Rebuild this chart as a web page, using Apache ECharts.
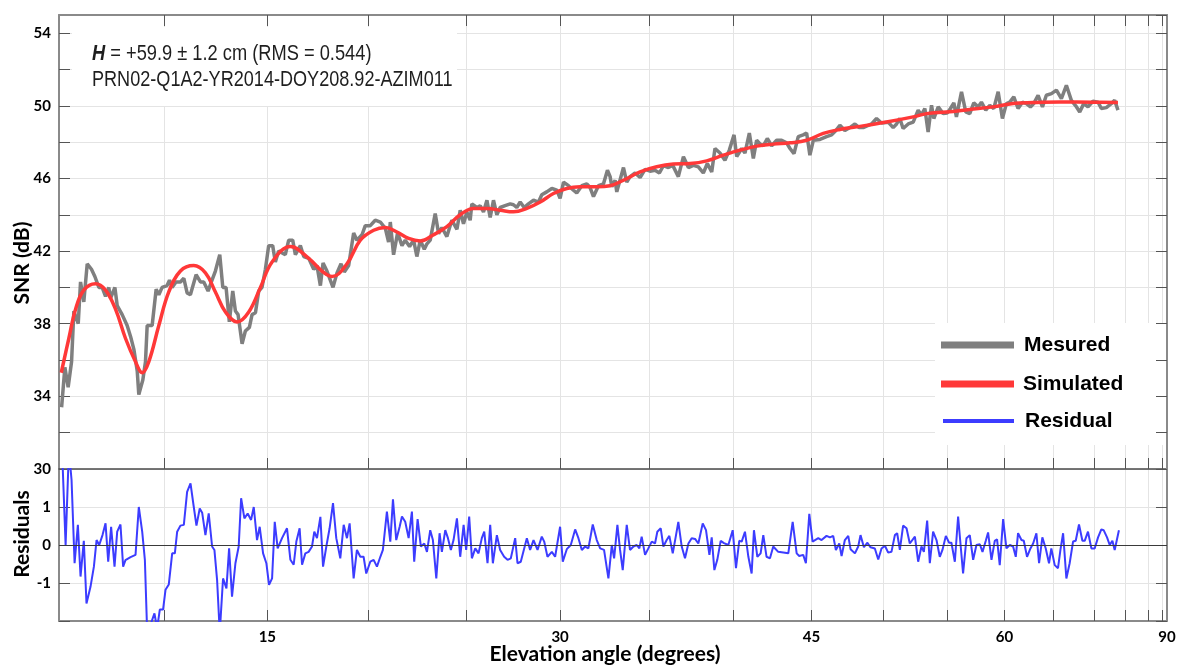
<!DOCTYPE html>
<html><head><meta charset="utf-8">
<script src="https://cdn.jsdelivr.net/npm/echarts@6/dist/echarts.min.js"></script>
<style>html,body{margin:0;padding:0;background:#fff}#c{width:1178px;height:666px}</style>
</head><body><div id="c"></div>
<script>
// x values are sin(elevation angle); the axis is linear in sin(elevation)
const tickDegrees = [10,15,20,25,30,35,40,45,50,55,60,65,70,75,80,85];
const labelDegrees = [15,30,45,60,90];

const measured = [
[0.0893,33.4],[0.0920,35.6],[0.0947,34.5],[0.0975,35.9],[0.0994,38.7],[0.1030,38.0],[0.1049,40.3],[0.1076,39.2],[0.1104,41.3],[0.1139,41.0],[0.1167,40.6],[0.1200,40.0],[0.1227,40.0],[0.1255,39.5],[0.1282,40.0],[0.1296,39.4],[0.1332,40.0],[0.1351,39.0],[0.1392,38.5],[0.1406,38.6],[0.1433,37.9],[0.1461,37.3],[0.1488,36.6],[0.1516,35.4],[0.1529,34.1],[0.1562,34.9],[0.1584,35.9],[0.1598,37.9],[0.1639,37.9],[0.1672,39.9],[0.1694,39.6],[0.1721,40.0],[0.1762,40.1],[0.1782,40.4],[0.1803,40.0],[0.1836,40.3],[0.1872,40.3],[0.1900,40.5],[0.1927,39.7],[0.1954,39.6],[0.2001,40.7],[0.2037,40.3],[0.2064,40.3],[0.2100,39.8],[0.2127,40.3],[0.2160,40.9],[0.2196,41.8],[0.2221,40.0],[0.2248,40.0],[0.2275,38.1],[0.2303,39.8],[0.2325,38.7],[0.2347,38.5],[0.2380,36.9],[0.2407,37.6],[0.2440,37.8],[0.2462,38.5],[0.2490,38.6],[0.2517,39.8],[0.2544,40.0],[0.2572,41.0],[0.2599,42.3],[0.2632,42.3],[0.2654,41.4],[0.2681,42.0],[0.2736,41.8],[0.2764,42.6],[0.2797,42.6],[0.2819,41.8],[0.2860,42.3],[0.2888,41.7],[0.2929,41.6],[0.2970,41.0],[0.2997,41.2],[0.3025,40.1],
[0.3047,41.35],[0.3079,40.9],[0.3129,40.0],[0.3162,40.8],[0.3195,41.3],[0.3222,40.85],[0.3258,41.2],[0.3299,43.0],[0.3326,42.6],[0.3368,42.9],[0.3395,43.4],[0.3436,43.4],[0.3477,43.7],[0.3519,43.6],[0.3560,43.25],[0.3587,42.5],[0.3601,43.6],[0.3628,41.8],[0.3661,43.0],[0.3697,42.3],[0.3724,42.6],[0.3760,42.25],[0.3793,42.6],[0.3820,41.7],[0.3848,42.6],[0.3881,42.1],[0.3903,42.4],[0.3930,42.6],[0.3971,44.07],[0.3999,42.96],[0.4026,43.3],[0.4067,42.8],[0.4108,43.7],[0.4150,43.2],[0.4177,44.25],[0.4204,43.5],[0.4232,44.15],[0.4259,43.7],[0.4273,44.6],[0.4314,44.4],[0.4342,44.5],[0.4369,44.15],[0.4397,44.8],[0.4424,43.85],[0.4451,44.8],[0.4479,44.0],[0.4506,44.4],[0.4547,44.5],[0.4589,44.6],[0.4616,44.55],[0.4643,44.4],[0.4671,44.7],[0.4704,44.4],[0.4739,44.6],[0.4781,44.8],[0.4822,44.7],[0.4849,45.1],[0.4890,45.26],[0.4932,45.45],[0.4973,45.35],[0.5000,44.9],[0.5028,45.8],[0.5069,45.6],[0.5110,45.35],[0.5137,45.2],[0.5179,45.6],[0.5220,45.7],[0.5247,45.5],[0.5275,45.0],[0.5316,45.6],[0.5357,45.7],[0.5390,46.45],[0.5412,46.1],
[0.5426,45.54],[0.5453,45.9],[0.5467,45.26],[0.5522,46.6],[0.5549,45.8],[0.5577,46.1],[0.5618,46.3],[0.5659,46.05],[0.5700,46.5],[0.5741,46.4],[0.5782,46.45],[0.5818,46.3],[0.5851,46.7],[0.5892,46.6],[0.5928,46.72],[0.5974,46.1],[0.6016,47.2],[0.6057,46.6],[0.6098,46.72],[0.6139,46.64],[0.6180,46.3],[0.6213,46.82],[0.6249,46.36],[0.6276,47.65],[0.6317,47.4],[0.6358,47.0],[0.6394,47.56],[0.6433,48.4],[0.6455,47.2],[0.6496,47.65],[0.6523,47.4],[0.6559,48.5],[0.6592,47.1],[0.6619,48.1],[0.6647,47.9],[0.6674,47.8],[0.6707,48.2],[0.6743,47.8],[0.6784,48.1],[0.6825,48.1],[0.6866,47.96],[0.6894,47.65],[0.6927,47.37],[0.6962,48.3],[0.7003,48.4],[0.7031,48.5],[0.7058,47.28],[0.7086,48.1],[0.7141,48.15],[0.7195,48.3],[0.7237,48.4],[0.7272,48.64],[0.7305,48.93],[0.7346,48.64],[0.7387,48.8],[0.7429,49.0],[0.7464,48.8],[0.7497,48.8],
[0.7566,49.0],[0.7607,49.3],[0.7648,49.05],[0.7703,49.1],[0.7744,48.8],[0.7772,49.0],[0.7799,49.3],[0.7826,48.75],[0.7868,49.0],[0.7909,49.1],[0.7950,49.76],[0.7977,49.5],[0.8005,49.85],[0.8032,48.56],[0.8060,50.03],[0.8079,49.3],[0.8115,49.94],[0.8156,49.57],[0.8189,49.6],[0.8216,49.85],[0.8244,50.16],[0.8265,49.39],[0.8307,50.77],[0.8342,49.66],[0.8375,49.57],[0.8408,50.16],[0.8444,49.94],[0.8471,50.2],[0.8507,49.76],[0.8540,50.03],[0.8573,49.85],[0.8609,50.77],[0.8644,49.3],[0.8677,50.12],[0.8705,50.2],[0.8738,50.49],[0.8773,49.85],[0.8809,50.2],[0.8842,50.12],[0.8875,49.94],[0.8902,50.12],[0.8938,50.58],[0.8974,49.94],[0.9006,50.58],[0.9048,50.67],[0.9089,50.86],[0.9130,50.4],[0.9171,51.13],[0.9212,50.3],[0.9248,50.0],[0.9281,49.66],[0.9314,50.12],[0.9349,49.94],[0.9390,50.25],[0.9432,50.2],[0.9459,49.85],[0.9500,49.9],[0.9541,50.12],[0.9569,50.3],[0.9596,49.76]
];

const simulated = [
[0.0890,35.3],[0.0953,37.2],[0.1008,38.8],[0.1076,39.85],[0.1172,40.2],[0.1255,39.85],[0.1337,38.8],[0.1419,37.2],[0.1502,35.9],[0.1557,35.3],[0.1611,35.9],[0.1694,37.9],[0.1776,39.75],[0.1872,40.9],[0.1982,41.2],[0.2078,40.8],[0.2160,39.75],[0.2243,38.65],[0.2339,38.1],[0.2435,38.65],[0.2531,40.0],[0.2627,41.4],[0.2778,42.25],[0.2929,41.6],[0.3038,40.9],[0.3121,40.6],[0.3244,41.3],[0.3354,42.6],[0.3464,43.15],[0.3560,43.3],[0.3656,43.05],[0.3752,42.7],[0.3848,42.56],[0.3958,42.9],[0.4067,43.35],[0.4177,44.0],[0.4287,44.35],[0.4397,44.35],[0.4506,44.25],[0.4616,44.16],[0.4726,44.35],[0.4836,44.7],[0.4945,45.17],[0.5055,45.45],[0.5165,45.54],[0.5302,45.54],[0.5412,45.6],[0.5522,45.9],[0.5659,46.36],[0.5796,46.64],[0.5933,46.79],[0.6070,46.82],[0.6208,46.97],[0.6345,47.28],[0.6482,47.56],[0.6619,47.78],[0.6756,47.89],[0.6894,47.96],[0.7031,48.1],[0.7168,48.48],[0.7305,48.7],[0.7442,48.84],[0.7689,49.11],[0.7909,49.39],[0.8019,49.57],[0.8183,49.66],[0.8375,49.8],[0.8567,49.94],[0.8732,50.13],[0.8897,50.18],[0.9116,50.21],[0.9390,50.2],[0.9596,50.18]
];

const residual = [
[0.0898,2.4],[0.0926,0.0],[0.0953,2.5],[0.0975,1.71],[0.1000,-0.48],[0.1027,0.53],[0.1049,-0.83],[0.1076,0.11],[0.1098,-1.54],[0.1131,-1.1],[0.1159,-0.57],[0.1181,0.13],[0.1203,0.0],[0.1230,0.26],[0.1255,0.57],[0.1277,-0.44],[0.1301,0.48],[0.1329,-0.57],[0.1351,0.35],[0.1378,0.54],[0.1400,-0.57],[0.1419,-0.4],[0.1461,-0.32],[0.1502,-0.26],[0.1529,1.0],[0.1557,0.35],[0.1579,-0.39],[0.1598,-2.3],[0.1625,-2.1],[0.1658,-1.8],[0.1680,-2.2],[0.1702,-1.7],[0.1729,-1.7],[0.1749,-1.18],[0.1776,-1.04],[0.1804,-0.22],[0.1826,-0.22],[0.1845,0.35],[0.1872,0.51],[0.1900,0.53],[0.1927,1.4],[0.1955,1.62],[0.1982,1.0],[0.2004,0.51],[0.2031,0.96],[0.2051,0.85],[0.2078,0.26],[0.2105,0.83],[0.2133,-0.04],[0.2152,-0.13],[0.2174,-0.92],[0.2196,-2.3],[0.2223,-0.88],[0.2251,-1.14],[0.2273,-0.09],[0.2297,-1.36],[0.2325,-0.48],[0.2352,-0.04],[0.2372,1.23],[0.2399,0.7],[0.2426,0.83],[0.2454,0.66],[0.2476,1.0],[0.2503,0.13],[0.2525,0.48],[0.2553,-0.22],[0.2580,-0.48],[0.2602,-1.05],[0.2627,-0.88],[0.2649,0.61],[0.2673,-0.09],[0.2709,0.18],[0.2750,0.44],[0.2778,-0.39],[0.2805,-0.52],[0.2827,0.09],[0.2854,0.44],[0.2874,-0.52],[0.2901,-0.22],[0.2928,-0.18],[0.2956,-0.04],[0.2975,0.35],[0.2997,0.18],[0.3025,0.74],[0.3047,-0.57],[0.3074,-0.04],[0.3101,0.44],[0.3129,1.1],[0.3156,0.18],[0.3189,-0.35],[0.3217,0.53],[0.3244,0.18],[0.3266,0.57],[0.3299,-0.88],[0.3326,-0.13],[0.3354,-0.31],[0.3381,-0.31],[0.3403,-0.75],[0.3436,-0.44],[0.3464,-0.39],[0.3491,-0.57],[0.3519,-0.31],[0.3540,-0.13],[0.3573,0.88],[0.3601,0.09],[0.3623,1.2],[0.3650,0.13],[0.3678,0.48],
[0.3697,0.75],[0.3724,0.61],[0.3752,0.18],[0.3779,0.88],[0.3798,-0.44],[0.3826,0.68],[0.3853,-0.04],[0.3881,0.04],[0.3903,-0.18],[0.3930,0.39],[0.3952,0.13],[0.3980,-0.88],[0.4007,0.31],[0.4026,-0.18],[0.4054,0.39],[0.4076,0.18],[0.4100,-0.13],[0.4122,0.13],[0.4150,0.7],[0.4177,-0.31],[0.4205,0.53],[0.4226,-0.13],[0.4251,0.75],[0.4273,-0.35],[0.4301,-0.09],[0.4328,-0.22],[0.4355,0.18],[0.4375,0.35],[0.4402,-0.48],[0.4424,0.53],[0.4446,-0.48],[0.4479,0.26],[0.4506,-0.13],[0.4539,-0.31],[0.4567,-0.39],[0.4594,-0.35],[0.4630,0.18],[0.4649,-0.48],[0.4676,-0.44],[0.4726,0.18],[0.4753,-0.13],[0.4781,0.13],[0.4814,-0.13],[0.4849,0.22],[0.4869,0.09],[0.4896,-0.31],[0.4932,-0.18],[0.4959,-0.31],[0.5000,0.48],[0.5022,-0.44],[0.5055,-0.11],[0.5088,0.0],[0.5124,0.41],[0.5151,0.18],[0.5179,-0.13],[0.5206,-0.04],[0.5233,-0.09],[0.5269,0.54],[0.5302,0.13],[0.5330,-0.09],[0.5362,-0.13],[0.5398,-0.88],[0.5426,0.0],[0.5445,-0.35],[0.5472,0.53],[0.5494,-0.13],[0.5516,-0.66],[0.5549,0.53],[0.5576,-0.13],[0.5604,-0.04],[0.5631,0.0],[0.5653,-0.09],[0.5672,0.22],[0.5700,-0.26],[0.5727,-0.09],[0.5755,0.09],[0.5782,0.04],[0.5801,0.35],[0.5829,0.44],[0.5851,-0.04],[0.5878,0.13],[0.5900,0.24],[0.5928,-0.22],[0.5955,0.26],[0.5974,0.61],[0.6002,-0.04],[0.6029,-0.35],[0.6057,0.04],[0.6084,0.18],[0.6112,0.16],[0.6139,0.04],[0.6175,0.57],[0.6202,0.39],[0.6230,-0.26],[0.6249,0.2],[0.6271,-0.66],[0.6295,-0.39],[0.6323,0.11],[0.6350,0.05],[0.6386,0.0],[0.6422,0.39],[0.6449,-0.61],[0.6476,0.11],[0.6496,0.09],[0.6523,0.35],[0.6551,-0.31],[0.6578,-0.75],[0.6597,0.39],[0.6625,-0.31],[0.6652,-0.22],[0.6674,0.26],[0.6701,-0.31],[0.6729,-0.35],[0.6756,-0.04],[0.6797,-0.18],[0.6880,-0.22],[0.6916,0.61],[0.6949,-0.22],[0.6970,-0.29],
[0.7003,-0.26],[0.7025,-0.48],[0.7053,0.82],[0.7080,0.09],[0.7127,0.18],[0.7154,0.13],[0.7195,0.24],[0.7223,0.2],[0.7250,0.24],[0.7272,-0.13],[0.7300,0.04],[0.7319,-0.29],[0.7346,0.13],[0.7374,0.24],[0.7393,-0.11],[0.7429,-0.22],[0.7456,-0.04],[0.7475,0.26],[0.7503,-0.06],[0.7530,0.06],[0.7558,-0.06],[0.7593,-0.09],[0.7621,-0.38],[0.7648,-0.09],[0.7676,-0.02],[0.7703,-0.2],[0.7730,-0.18],[0.7758,0.26],[0.7777,0.31],[0.7799,-0.13],[0.7826,0.51],[0.7854,0.44],[0.7881,0.04],[0.7923,0.22],[0.7950,-0.44],[0.7977,-0.04],[0.7997,-0.18],[0.8024,0.64],[0.8046,-0.48],[0.8073,0.35],[0.8101,0.13],[0.8128,-0.31],[0.8150,-0.13],[0.8178,0.24],[0.8205,0.06],[0.8224,0.06],[0.8252,-0.44],[0.8279,0.75],[0.8320,-0.75],[0.8348,0.18],[0.8375,0.26],[0.8403,-0.39],[0.8430,0.0],[0.8458,0.02],[0.8480,-0.18],[0.8507,0.11],[0.8526,0.33],[0.8554,-0.39],[0.8581,0.11],[0.8600,0.15],[0.8622,-0.53],[0.8650,0.68],[0.8677,-0.09],[0.8705,0.0],[0.8732,-0.04],[0.8754,-0.31],[0.8773,0.31],[0.8801,0.13],[0.8820,0.11],[0.8847,-0.31],[0.8875,-0.09],[0.8897,0.04],[0.8924,0.31],[0.8946,-0.48],[0.8973,0.2],[0.9001,-0.09],[0.9028,-0.48],[0.9047,-0.09],[0.9075,-0.53],[0.9102,-0.61],[0.9122,-0.13],[0.9144,0.31],[0.9171,-0.88],[0.9198,-0.48],[0.9226,0.09],[0.9248,0.11],[0.9275,0.54],[0.9303,0.11],[0.9322,0.11],[0.9349,0.35],[0.9377,-0.09],[0.9404,-0.09],[0.9432,0.2],[0.9459,0.41],[0.9478,0.39],[0.9506,0.2],[0.9528,0.0],[0.9550,0.11],[0.9569,-0.13],[0.9604,0.39]
];

const sinDeg = d => Math.sin(d * Math.PI / 180);
const xMin = sinDeg(5), xMax = 1;
const tickVals = tickDegrees.map(sinDeg);
const labelVals = labelDegrees.map(sinDeg);
const toDeg = v => String(Math.round(Math.asin(Math.min(1, v)) * 180 / Math.PI));

const LAB = "Lato, 'Open Sans', sans-serif";
const ARIAL = "'Liberation Sans', Arial, sans-serif";
const GRIDC = '#e4e4e4';
const TICKC = '#555';
const BORDER = '#8a8a8a';

function xAxisDef(gridIndex, position, o) {
  return Object.assign({
    type: 'value', gridIndex, position, min: xMin, max: xMax,
    axisLine: { show: true, onZero: false, lineStyle: { color: BORDER, width: 2 } },
    axisTick: { show: true, inside: true, length: 11, customValues: tickVals, lineStyle: { color: TICKC, width: 1 } },
    axisLabel: { show: false, customValues: labelVals },
    splitLine: { show: false }
  }, o);
}

const option = {
  animation: false,
  backgroundColor: '#fff',
  grid: [
    { left: 59, top: 15, right: 11, height: 454, outerBoundsMode: 'none', containLabel: false },
    { left: 59, top: 469, right: 11, height: 152, outerBoundsMode: 'none', containLabel: false }
  ],
  legend: [
    { data: ['Mesured'], left: 941, top: 334.5, padding: 0, itemWidth: 73, itemHeight: 7, icon: 'rect', selectedMode: false,
      textStyle: { fontFamily: ARIAL, fontSize: 21, fontWeight: 'bold', color: '#000', padding: [0, 0, 8, 5] } },
    { data: ['Simulated'], left: 941, top: 373.5, padding: 0, itemWidth: 73, itemHeight: 7, icon: 'rect', selectedMode: false,
      textStyle: { fontFamily: ARIAL, fontSize: 21, fontWeight: 'bold', color: '#000', padding: [0, 0, 8, 4] } },
    { data: ['Residual'], left: 943, top: 410.5, padding: 0, itemWidth: 71, itemHeight: 4, icon: 'rect', selectedMode: false,
      textStyle: { fontFamily: ARIAL, fontSize: 21, fontWeight: 'bold', color: '#000', padding: [0, 0, 10, 6] } }
  ],
  graphic: [
    { type: 'rect', silent: true, z: 1, shape: { x: 72, y: 27, width: 385, height: 79 }, style: { fill: '#fff' } },
    { type: 'rect', silent: true, z: 1, shape: { x: 935, y: 323, width: 228, height: 122 }, style: { fill: '#fff' } },
    { type: 'text', silent: true, z: 5, x: 92, y: 54, scaleX: 0.83,
      style: { text: '{i|H} = +59.9 ± 1.2 cm (RMS = 0.544)', fontFamily: ARIAL, fontSize: 22, fill: '#1e1e1e', verticalAlign: 'middle',
        rich: { i: { fontFamily: ARIAL, fontSize: 22, fontStyle: 'italic', fontWeight: 'bold', fill: '#1e1e1e' } } } },
    { type: 'text', silent: true, z: 5, x: 92, y: 79.5, scaleX: 0.822,
      style: { text: 'PRN02-Q1A2-YR2014-DOY208.92-AZIM011', fontFamily: ARIAL, fontSize: 22, fill: '#1e1e1e', verticalAlign: 'middle' } }
  ],
  xAxis: [
    xAxisDef(0, 'bottom', {
      axisLine: { show: true, onZero: false, lineStyle: { color: '#4a4a4a', width: 1.5 } },
      splitLine: { show: true, lineStyle: { color: GRIDC, width: 1 } }
    }),
    xAxisDef(0, 'top', { z: 3 }),
    xAxisDef(1, 'bottom', {
      axisLabel: { show: true, customValues: labelVals, formatter: toDeg, margin: 9,
        fontFamily: LAB, fontSize: 15, fontWeight: 'bold', color: '#000' },
      splitLine: { show: true, lineStyle: { color: GRIDC, width: 1 } },
      name: 'Elevation angle (degrees)', nameLocation: 'middle', nameGap: 23, nameMoveOverlap: false,
      nameTextStyle: { fontFamily: LAB, fontSize: 21, fontWeight: 'bold', color: '#000', padding: [0, 16, 0, 0] }
    })
  ],
  yAxis: [
    { type: 'value', gridIndex: 0, position: 'left', min: 30, max: 55, interval: 2,
      axisLine: { show: true, onZero: false, lineStyle: { color: BORDER, width: 2 } },
      axisTick: { show: true, inside: true, length: 11, lineStyle: { color: TICKC } },
      axisLabel: { margin: 8, fontFamily: LAB, fontSize: 15, fontWeight: 'bold', color: '#000',
        formatter: v => ((v - 30) % 4 === 0 ? String(v) : '') },
      splitLine: { show: true, lineStyle: { color: GRIDC, width: 1 } },
      name: 'SNR (dB)', nameLocation: 'middle', nameGap: 26, nameRotate: 90, nameMoveOverlap: false,
      nameTextStyle: { fontFamily: LAB, fontSize: 21, fontWeight: 'bold', color: '#000', padding: [0, 42, 0, 0] } },
    { type: 'value', gridIndex: 0, position: 'right', min: 30, max: 55, interval: 2, z: 3,
      axisLine: { show: true, onZero: false, lineStyle: { color: BORDER, width: 2 } },
      axisTick: { show: true, inside: true, length: 11, lineStyle: { color: TICKC } },
      axisLabel: { show: false }, splitLine: { show: false } },
    { type: 'value', gridIndex: 1, position: 'left', min: -2, max: 2, interval: 1,
      axisLine: { show: true, onZero: false, lineStyle: { color: BORDER, width: 2 } },
      axisTick: { show: true, inside: true, length: 11, lineStyle: { color: TICKC } },
      axisLabel: { margin: 8, fontFamily: LAB, fontSize: 15, fontWeight: 'bold', color: '#000',
        formatter: v => (Math.abs(v) === 2 ? '' : String(v)) },
      splitLine: { show: true, lineStyle: { color: GRIDC, width: 1 } },
      name: 'Residuals', nameLocation: 'middle', nameGap: 26, nameRotate: 90, nameMoveOverlap: false,
      nameTextStyle: { fontFamily: LAB, fontSize: 21, fontWeight: 'bold', color: '#000', padding: [0, 0, 0, 22] } },
    { type: 'value', gridIndex: 1, position: 'right', min: -2, max: 2, interval: 1, z: 3,
      axisLine: { show: true, onZero: false, lineStyle: { color: BORDER, width: 2 } },
      axisTick: { show: true, inside: true, length: 11, lineStyle: { color: TICKC } },
      axisLabel: { show: false }, splitLine: { show: false } }
  ],
  series: [
    { name: 'Mesured', type: 'line', xAxisIndex: 0, yAxisIndex: 0, data: measured,
      symbol: 'none', showSymbol: false, z: 2,
      lineStyle: { color: '#7f7f7f', width: 3.5 }, itemStyle: { color: '#7f7f7f' } },
    { name: 'Simulated', type: 'line', xAxisIndex: 0, yAxisIndex: 0, data: simulated,
      symbol: 'none', showSymbol: false, smooth: 0.4, z: 3,
      lineStyle: { color: '#ff3838', width: 3.5 }, itemStyle: { color: '#ff3838' } },
    { name: 'Residual', type: 'line', xAxisIndex: 2, yAxisIndex: 2, data: residual,
      symbol: 'none', showSymbol: false, z: 3,
      lineStyle: { color: '#3c3cff', width: 2 }, itemStyle: { color: '#3c3cff' },
      markLine: { silent: true, symbol: 'none', animation: false, label: { show: false },
        lineStyle: { color: '#3a3a3a', width: 1, type: 'solid' }, data: [{ yAxis: 0 }] } }
  ]
};

const chart = echarts.init(document.getElementById('c'), null, { renderer: 'canvas' });
chart.setOption(option);
</script>
</body></html>
